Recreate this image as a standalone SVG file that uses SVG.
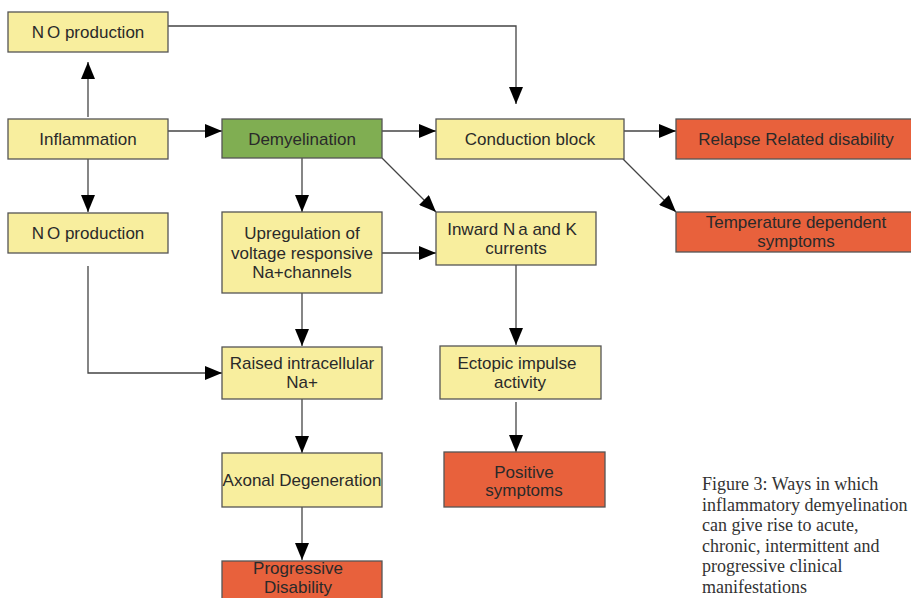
<svg xmlns="http://www.w3.org/2000/svg" width="911" height="598" viewBox="0 0 911 598">
<style>
.y{fill:#F8EE9E;stroke:#555;stroke-width:1.3}
.g{fill:#80AE52;stroke:#555;stroke-width:1.3}
.r{fill:#E8613C;stroke:#555;stroke-width:1.3}
text{font-family:"Liberation Sans",Arial,sans-serif;font-size:17px;fill:#2a2a2a;text-anchor:middle}
.cap{font-family:"Liberation Serif","Times New Roman",serif;font-size:18px;fill:#333;text-anchor:start}
.c{fill:none;stroke:#444;stroke-width:1.3}
</style>
<defs>
<marker id="ah" markerUnits="userSpaceOnUse" markerWidth="18" markerHeight="14" refX="17" refY="7" orient="auto">
<path d="M0,0 L17,7 L0,14 z" fill="#000"/>
</marker>
</defs>
<rect width="911" height="598" fill="#fff"/>
<g id="connectors">
<path class="c" marker-end="url(#ah)" d="M88,117 V62"/>
<path class="c" marker-end="url(#ah)" d="M88,159 V212"/>
<path class="c" marker-end="url(#ah)" d="M168,131 H222"/>
<path class="c" marker-end="url(#ah)" d="M382,131 H436"/>
<path class="c" marker-end="url(#ah)" d="M624,131 H676"/>
<path class="c" marker-end="url(#ah)" d="M168,26 H516 V104"/>
<path class="c" marker-end="url(#ah)" d="M302,158 V212"/>
<path class="c" marker-end="url(#ah)" d="M382,158 L436,212"/>
<path class="c" marker-end="url(#ah)" d="M623,159 L676,212"/>
<path class="c" marker-end="url(#ah)" d="M382,253 H436"/>
<path class="c" marker-end="url(#ah)" d="M302,293 V346"/>
<path class="c" marker-end="url(#ah)" d="M88,266 V373 H222"/>
<path class="c" marker-end="url(#ah)" d="M516,265 V345"/>
<path class="c" marker-end="url(#ah)" d="M302,399 V453"/>
<path class="c" marker-end="url(#ah)" d="M302,507 V560"/>
<path class="c" marker-end="url(#ah)" d="M516,402 V452"/>
</g>
<g id="no-top"><rect class="y" x="8" y="12" width="160" height="40"/><text x="88" y="38">N<tspan dx="3">O</tspan> production</text></g>
<g id="inflammation"><rect class="y" x="8" y="119" width="160" height="40"/><text x="88" y="145">Inflammation</text></g>
<g id="demyelination"><rect class="g" x="222" y="119" width="160" height="39"/><text x="302" y="145">Demyelination</text></g>
<g id="conduction"><rect class="y" x="436" y="119" width="188" height="40"/><text x="530" y="145">Conduction block</text></g>
<g id="relapse"><rect class="r" x="676" y="119" width="240" height="40"/><text x="796" y="145">Relapse Related disability</text></g>
<g id="temperature"><rect class="r" x="676" y="212" width="240" height="40"/><text x="796" y="228">Temperature dependent</text><text x="796" y="247">symptoms</text></g>
<g id="no-lower"><rect class="y" x="8" y="213" width="160" height="40"/><text x="88" y="239">N<tspan dx="3">O</tspan> production</text></g>
<g id="upregulation"><rect class="y" x="222" y="212" width="160" height="81"/><text x="302" y="239">Upregulation of</text><text x="302" y="258.5">voltage responsive</text><text x="302" y="278">Na+channels</text></g>
<g id="inward"><rect class="y" x="436" y="212" width="160" height="53"/><text x="512" y="235">Inward N<tspan dx="3">a</tspan> and K</text><text x="516" y="254">currents</text></g>
<g id="raised"><rect class="y" x="222" y="347" width="160" height="52"/><text x="302" y="369">Raised intracellular</text><text x="302" y="388">Na+</text></g>
<g id="ectopic"><rect class="y" x="440" y="346" width="161" height="53"/><text x="517" y="369">Ectopic impulse</text><text x="520" y="388">activity</text></g>
<g id="axonal"><rect class="y" x="222" y="453" width="160" height="54"/><text x="302" y="486">Axonal Degeneration</text></g>
<g id="positive"><rect class="r" x="444" y="452" width="161" height="55"/><text x="524" y="478">Positive</text><text x="524" y="496">symptoms</text></g>
<g id="progressive"><rect class="r" x="222" y="561" width="160" height="50"/><text x="298" y="574" font-size="16">Progressive</text><text x="298" y="592.5" font-size="16">Disability</text></g>
<g id="caption">
<text class="cap" x="702" y="490">Figure 3: Ways in which</text>
<text class="cap" x="702" y="510.5">inflammatory demyelination</text>
<text class="cap" x="702" y="531">can give rise to acute,</text>
<text class="cap" x="702" y="551.5">chronic, intermittent and</text>
<text class="cap" x="702" y="572">progressive clinical</text>
<text class="cap" x="702" y="592.5">manifestations</text>
</g>
</svg>
